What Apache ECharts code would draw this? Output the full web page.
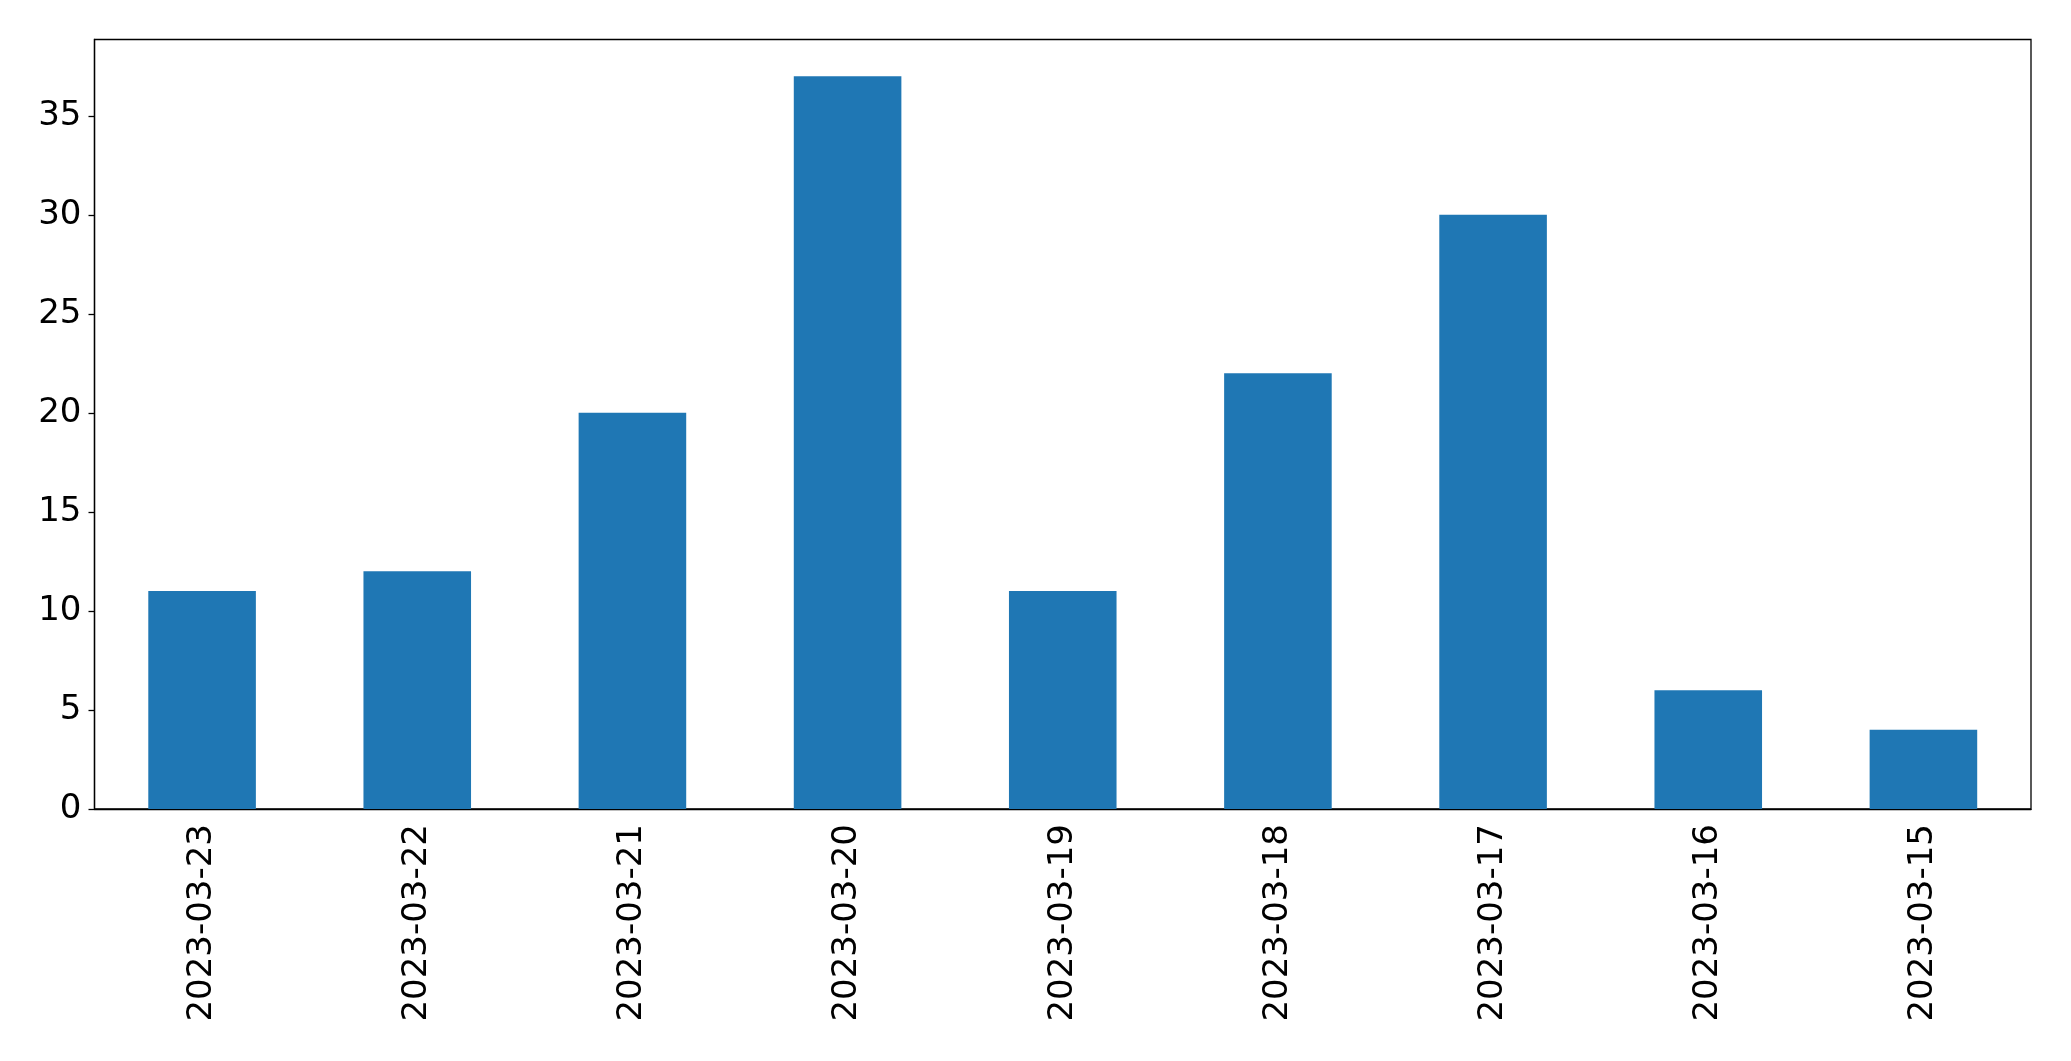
<!DOCTYPE html>
<html>
<head>
<meta charset="utf-8">
<script src="https://cdn.jsdelivr.net/npm/echarts@6/dist/echarts.min.js"></script>
<style>
  html, body { margin: 0; padding: 0; background: #fff; }
  #chart { width: 2071px; height: 1061px; }
</style>
</head>
<body>
<div id="chart"></div>
<script>
const categories = ['2023-03-23', '2023-03-22', '2023-03-21', '2023-03-20', '2023-03-19',
  '2023-03-18', '2023-03-17', '2023-03-16', '2023-03-15'];
const counts = [11, 12, 20, 37, 11, 22, 30, 6, 4];
const yTicks = [0, 5, 10, 15, 20, 25, 30, 35];

const font = 'DejaVu Sans';
const chart = echarts.init(document.getElementById('chart'));

chart.setOption({
  animation: false,
  grid: {
    left: 94.5,
    right: 40,
    top: 39.5,
    bottom: 252,
    show: true,
    borderColor: '#000',
    borderWidth: 1.3,
    backgroundColor: 'transparent'
  },
  xAxis: {
    type: 'category',
    data: categories,
    axisLine: { lineStyle: { color: '#000', width: 1.3 } },
    axisTick: { alignWithLabel: true, length: 6, lineStyle: { color: '#000', width: 1.3 } },
    axisLabel: {
      rotate: 90,
      margin: 15,
      color: '#000',
      fontFamily: font,
      fontSize: 34,
      interval: 0
    }
  },
  yAxis: {
    type: 'value',
    min: 0,
    max: 38.85,
    interval: 5,
    splitLine: { show: false },
    axisLine: { show: true, lineStyle: { color: '#000', width: 1.3 } },
    axisTick: { show: true, length: 6, customValues: yTicks, lineStyle: { color: '#000', width: 1.3 } },
    axisLabel: {
      customValues: yTicks,
      margin: 13,
      color: '#000',
      fontFamily: font,
      fontSize: 34
    }
  },
  series: [{
    type: 'bar',
    data: counts,
    barWidth: '50%',
    itemStyle: { color: '#1f77b4' }
  }]
});
</script>
</body>
</html>
